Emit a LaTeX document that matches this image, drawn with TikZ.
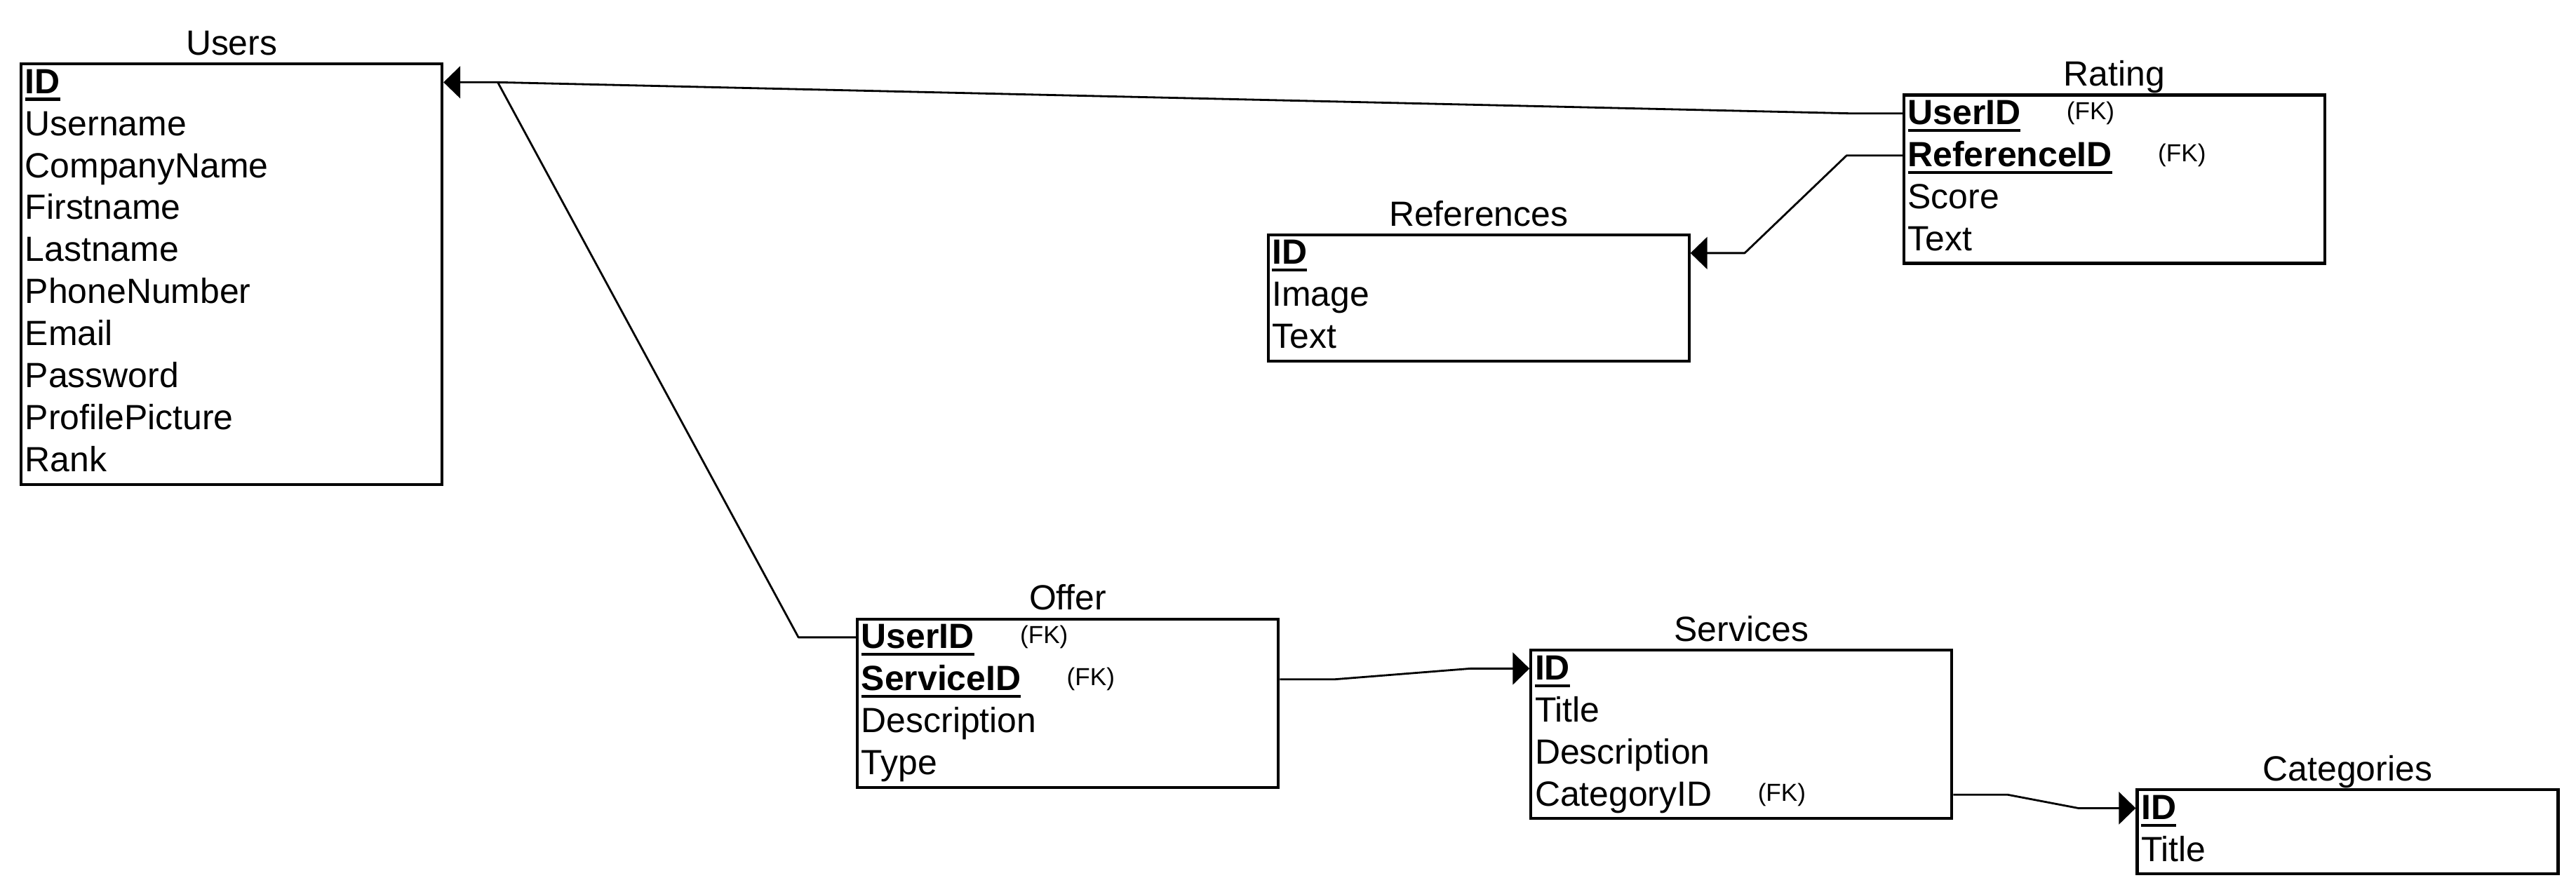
\documentclass[tikz,border=0pt]{standalone}
\usepackage{fontspec}
\setmainfont{Liberation Sans}
\usetikzlibrary{arrows.meta,positioning,calc}

\newsavebox\keybox
\newcommand{\keyfield}[1]{\sbox\keybox{\textbf{#1}}\rlap{\rule[-3pt]{\wd\keybox}{1.2pt}}\usebox\keybox}

\tikzset{
  entity/.style={draw,line width=1.2pt,minimum width=6cm,inner sep=0pt,anchor=north west},
  tabletitle/.style={font=\fontsize{14.2}{17}\selectfont,inner sep=0pt,anchor=base},
  field/.style={font=\fontsize{14.2}{17}\selectfont,inner sep=0pt,anchor=west,text height=11.5pt,text depth=2.5pt},
  fklabel/.style={font=\fontsize{10}{12}\selectfont,inner sep=0pt},
  relation/.style={line width=0.8pt,line join=round,-{Triangle[length=0.24cm,width=0.46cm]}}
}

\begin{document}
\begin{tikzpicture}[x=0.02342cm,y=-0.02342cm]
                \useasboundingbox (0,0) rectangle (1568,543);

                \node[entity,minimum height=6cm] (users) at (12,38) {};
                \node[tabletitle] (users-title) at ([yshift=3pt]users.north) {Users};
                \foreach \fld [count=\i] in {\keyfield{ID},Username,CompanyName,Firstname,Lastname,PhoneNumber,Email,Password,ProfilePicture,Rank}
                  \node[field] (users-\i) at ($(users.north west)+(3,25.6*\i-13.5)$) {\fld};

                \node[entity,minimum height=2.4cm] (rating) at (1158,57) {};
                \node[tabletitle] (rating-title) at ([yshift=3pt]rating.north) {Rating};
                \foreach \fld [count=\i] in {\keyfield{UserID},\keyfield{ReferenceID},Score,Text}
                  \node[field] (rating-\i) at ($(rating.north west)+(3,25.6*\i-13.5)$) {\fld};
                \node[fklabel,right=0.64cm of rating-1] (rating-fk1) {(FK)};
                \node[fklabel,right=0.64cm of rating-2] (rating-fk2) {(FK)};

                \node[entity,minimum height=1.8cm] (references) at (771,142) {};
                \node[tabletitle] (references-title) at ([yshift=3pt]references.north) {References};
                \foreach \fld [count=\i] in {\keyfield{ID},Image,Text}
                  \node[field] (references-\i) at ($(references.north west)+(3,25.6*\i-13.5)$) {\fld};

                \node[entity,minimum height=2.4cm] (offer) at (521,376) {};
                \node[tabletitle] (offer-title) at ([yshift=3pt]offer.north) {Offer};
                \foreach \fld [count=\i] in {\keyfield{UserID},\keyfield{ServiceID},Description,Type}
                  \node[field] (offer-\i) at ($(offer.north west)+(3,25.6*\i-13.5)$) {\fld};
                \node[fklabel,right=0.64cm of offer-1] (offer-fk1) {(FK)};
                \node[fklabel,right=0.64cm of offer-2] (offer-fk2) {(FK)};

                \node[entity,minimum height=2.4cm] (services) at (931,395) {};
                \node[tabletitle] (services-title) at ([yshift=3pt]services.north) {Services};
                \foreach \fld [count=\i] in {\keyfield{ID},Title,Description,CategoryID}
                  \node[field] (services-\i) at ($(services.north west)+(3,25.6*\i-13.5)$) {\fld};
                \node[fklabel,right=0.64cm of services-4] (services-fk4) {(FK)};

                \node[entity,minimum height=1.2cm] (categories) at (1300,480) {};
                \node[tabletitle] (categories-title) at ([yshift=3pt]categories.north) {Categories};
                \foreach \fld [count=\i] in {\keyfield{ID},Title}
                  \node[field] (categories-\i) at ($(categories.north west)+(3,25.6*\i-13.5)$) {\fld};

                \draw[relation] (rating.west |- rating-1) -- ++(-30,0) -- ($(users.east |- users-1)+(33,0)$) coordinate (ujoin) -- (users.east |- users-1);
                \draw[relation] (rating.west |- rating-2) -- ++(-34,0) -- ($(references.east |- references-1)+(33,0)$) -- (references.east |- references-1);
                \draw[line width=0.8pt,line join=round] (offer.west |- offer-1) -- ++(-35,0) -- (ujoin);
                \draw[relation] (offer.east |- offer-2) -- ++(33,0) -- ($(services.west |- services-1)+(-36,0)$) -- (services.west |- services-1);
                \draw[relation] (services.east |- services-4) -- ++(33,0) -- ($(categories.west |- categories-1)+(-35,0)$) -- (categories.west |- categories-1);

              \end{tikzpicture}
\end{document}
